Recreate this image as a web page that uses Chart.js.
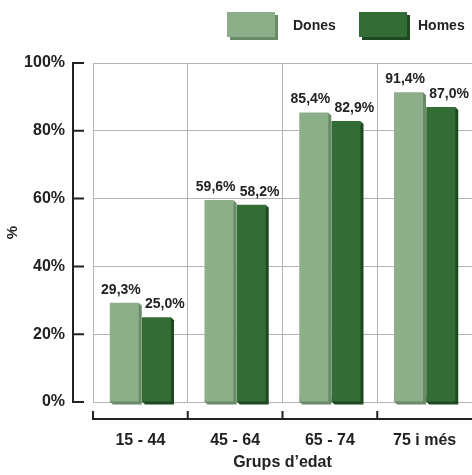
<!DOCTYPE html>
<html>
<head>
<meta charset="utf-8">
<script src="https://cdn.jsdelivr.net/npm/chart.js@4"></script>
<style>
  html, body { margin: 0; padding: 0; background: #ffffff; }
  #wrap { width: 472px; height: 475px; }
</style>
</head>
<body>
<div id="wrap"><canvas id="c" width="472" height="475"></canvas></div>
<script>
const categories = ['15 - 44', '45 - 64', '65 - 74', '75 i més'];
const seriesNames = ['Dones', 'Homes'];
const dones = [29.3, 59.6, 85.4, 91.4];
const homes = [25.0, 58.2, 82.9, 87.0];
const yTicks = [0, 20, 40, 60, 80, 100];
const yTitle = '%';
const xTitle = 'Grups d\u2019edat';

const FONT = '"Liberation Sans", Arial, Helvetica, sans-serif';
const frontColors = ['#8cae89', '#336c34'];
const sideColors = ['#6a8b68', '#1f4a21'];

function fmt(v) { return v.toFixed(1).replace('.', ',') + '%'; }

const depthPlugin = {
  id: 'depth',
  beforeDatasetsDraw(chart) {
    const ctx = chart.ctx;
    const d = 3;
    chart.data.datasets.forEach((ds, di) => {
      const meta = chart.getDatasetMeta(di);
      meta.data.forEach(bar => {
        const p = bar.getProps(['x', 'y', 'base', 'width'], true);
        const l = p.x - p.width / 2, r = p.x + p.width / 2;
        ctx.save();
        ctx.fillStyle = sideColors[di];
        ctx.beginPath();
        ctx.moveTo(r, p.y);
        ctx.lineTo(r + d, p.y + d);
        ctx.lineTo(r + d, p.base + d);
        ctx.lineTo(l + d, p.base + d);
        ctx.lineTo(l, p.base);
        ctx.closePath();
        ctx.fill();
        ctx.restore();
      });
    });
  },
  afterDatasetsDraw(chart) {
    const ctx = chart.ctx;
    ctx.save();
    ctx.font = 'bold 14px ' + FONT;
    ctx.fillStyle = '#222222';
    ctx.textBaseline = 'alphabetic';
    chart.data.datasets.forEach((ds, di) => {
      const meta = chart.getDatasetMeta(di);
      meta.data.forEach((bar, i) => {
        const p = bar.getProps(['x', 'y', 'width'], true);
        const txt = fmt(ds.data[i]);
        if (di === 0) {
          ctx.textAlign = 'right';
          ctx.fillText(txt, p.x + p.width / 2 + 2, p.y - 9);
        } else {
          ctx.textAlign = 'left';
          ctx.fillText(txt, p.x - p.width / 2 + 3, p.y - 9);
        }
      });
    });
    ctx.restore();
  },
  afterDraw(chart) {
    const ctx = chart.ctx;
    const ys = chart.scales.y, xs = chart.scales.x;
    const area = chart.chartArea;
    ctx.save();
    ctx.strokeStyle = '#222222';
    ctx.lineWidth = 2;
    // detached y axis
    const ax = area.left - 20;
    ctx.beginPath();
    ctx.moveTo(ax, ys.getPixelForValue(100) - 1);
    ctx.lineTo(ax, ys.getPixelForValue(0) + 1);
    yTicks.forEach(t => {
      const y = ys.getPixelForValue(t);
      ctx.moveTo(ax, y);
      ctx.lineTo(ax + 11, y);
    });
    ctx.stroke();
    // detached x axis
    const ay = area.bottom + 17;
    const step = xs.getPixelForValue(1) - xs.getPixelForValue(0);
    ctx.beginPath();
    ctx.moveTo(area.left - 1, ay);
    ctx.lineTo(area.right, ay);
    categories.forEach((c, i) => {
      const x = xs.getPixelForValue(i) - step / 2;
      ctx.moveTo(x, ay + 1);
      ctx.lineTo(x, ay - 8);
    });
    ctx.stroke();
    // legend
    const boxX = [227, 359];
    const textX = [293, 418];
    const ly = 12;
    ctx.font = 'bold 14px ' + FONT;
    ctx.textAlign = 'left';
    ctx.textBaseline = 'middle';
    chart.data.datasets.forEach((ds, di) => {
      ctx.fillStyle = sideColors[di];
      ctx.fillRect(boxX[di] + 3, ly + 3, 48, 25);
      ctx.fillStyle = frontColors[di];
      ctx.fillRect(boxX[di], ly, 48, 25);
      ctx.fillStyle = '#222222';
      ctx.fillText(ds.label, textX[di], ly + 14);
    });
    ctx.restore();
  }
};

new Chart(document.getElementById('c'), {
  type: 'bar',
  data: {
    labels: categories,
    datasets: [
      { label: seriesNames[0], data: dones, backgroundColor: frontColors[0], borderWidth: 0 },
      { label: seriesNames[1], data: homes, backgroundColor: frontColors[1], borderWidth: 0 }
    ]
  },
  options: {
    responsive: false,
    animation: false,
    devicePixelRatio: 1,
    layout: { padding: { top: 63, right: 0, bottom: 0, left: 0 } },
    categoryPercentage: 0.68,
    barPercentage: 0.9,
    plugins: {
      legend: { display: false },
      tooltip: { enabled: false }
    },
    scales: {
      x: {
        grid: { color: '#b4b4b4', lineWidth: 1, drawTicks: false, offset: true },
        border: { display: false },
        ticks: { color: '#222222', font: { family: FONT, size: 16, weight: 'bold' }, padding: 29 },
        title: { display: true, text: xTitle, color: '#222222', font: { family: FONT, size: 16, weight: 'bold' }, padding: { top: 4, bottom: 3 } },
        afterFit(scale) { scale.height = 73; scale.paddingLeft = 0; scale.paddingRight = 0; }
      },
      y: {
        min: 0, max: 100,
        afterBuildTicks(scale) { scale.ticks = yTicks.map(v => ({ value: v })); },
        grid: { color: '#b4b4b4', lineWidth: 1, drawTicks: false },
        border: { display: true, color: '#b4b4b4', width: 1 },
        ticks: { color: '#222222', font: { family: FONT, size: 16, weight: 'bold' }, padding: 28, callback: v => v + '%' },
        title: { display: true, text: yTitle, color: '#222222', font: { family: FONT, size: 15, weight: 'bold' }, padding: { top: 4, bottom: 4 } },
        afterFit(scale) { scale.width = 93; }
      }
    }
  },
  plugins: [depthPlugin]
});
</script>
</body>
</html>
